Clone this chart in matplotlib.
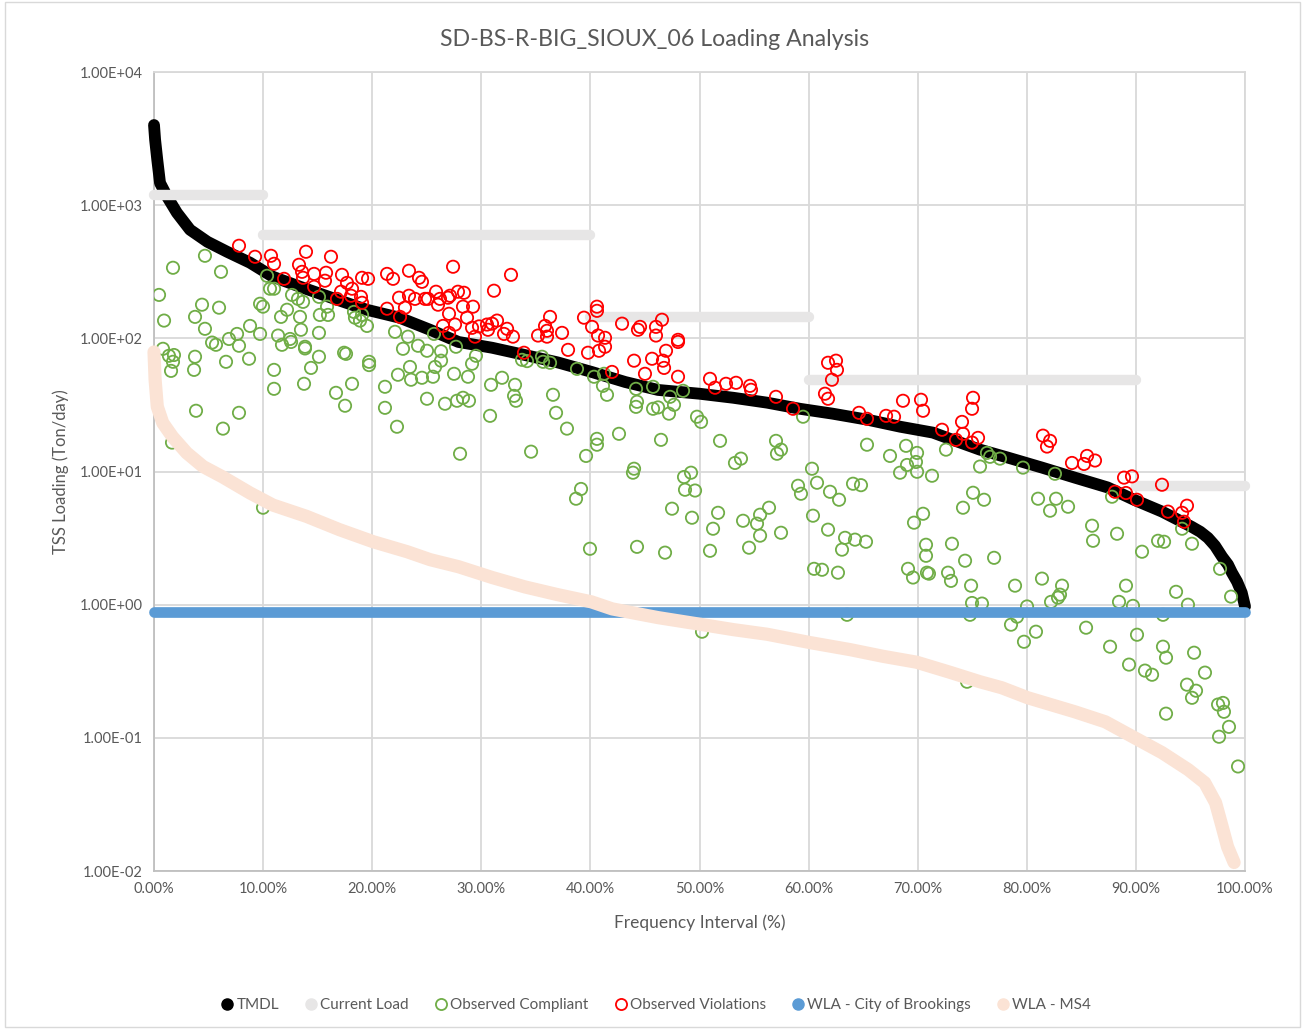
import matplotlib
matplotlib.use("Agg")
import matplotlib.pyplot as plt
from matplotlib.lines import Line2D
from matplotlib.patches import Rectangle
from matplotlib.ticker import FixedLocator, FuncFormatter

plt.rcParams["font.family"] = ["Lato", "DejaVu Sans"]

TITLE = "SD-BS-R-BIG_SIOUX_06 Loading Analysis"

# TMDL curve (frequency %, Ton/day)
tmdl_pct = [0, 0.1, 0.3, 0.55, 1.2, 2.1, 3.3, 4.9, 6.7, 8.8, 10.9, 13.4, 16.8, 19.5,
            22.5, 25.3, 27.9, 31.0, 34.0, 37.0, 40.1, 43.2, 46.2, 50.0, 53.1, 56.2,
            59.2, 62.2, 65.4, 68.4, 71.4, 73.2, 75.7, 78.3, 81.4, 84.4, 87.4, 89.9,
            92.4, 95.1, 95.9, 96.6, 97.25, 97.9, 98.44, 98.8, 99.27, 99.7, 100]
tmdl_load = [4000, 3100, 2190, 1470, 1160, 877, 654, 531, 447, 370, 290, 244, 195, 164,
             143, 116, 94, 85, 75, 66, 56, 47, 41, 38.4, 35.8, 32.9,
             29.6, 27.2, 24.5, 21.7, 19.6, 17.3, 14.6, 12.7, 10.7, 9.0, 7.6, 6.1,
             5.0, 3.85, 3.53, 3.18, 2.77, 2.29, 2.0, 1.74, 1.49, 1.23, 0.97]

# Current load by flow regime
current_start = [0, 10, 40, 60, 90]
current_end = [10, 40, 60, 90, 100]
current_load = [1200, 600, 145, 49, 7.8]

# WLA - City of Brookings
wla_brookings = 0.886

# WLA - MS4 curve
ms4_pct = [0, 0.1, 0.3, 0.8, 1.7, 3.0, 4.5, 6.3, 8.8, 10.9, 14.0, 17.0, 20.1, 23.2,
           25.3, 27.9, 31.0, 34.0, 37.0, 40.1, 42.0, 46.2, 50.2, 53.1, 56.2, 60.1,
           63.8, 66.8, 69.9, 73.0, 75.7, 77.7, 80.1, 84.4, 87.2, 89.9, 92.4, 94.8,
           96.3, 97.3, 97.9, 98.4, 99.0]
ms4_load = [79, 49, 30.7, 23.2, 18.2, 13.8, 10.9, 9.1, 6.9, 5.6, 4.6, 3.66, 2.97, 2.50,
            2.18, 1.93, 1.60, 1.36, 1.19, 1.05, 0.93, 0.80, 0.71, 0.65, 0.60, 0.52,
            0.46, 0.41, 0.37, 0.31, 0.264, 0.238, 0.20, 0.157, 0.132, 0.100, 0.0774, 0.0577,
            0.0461, 0.0326, 0.0216, 0.0152, 0.0116]

# Observed compliant samples
ok_pct = [4.67, 1.74, 6.14, 0.46, 4.40, 5.96, 3.76, 0.92, 4.67, 10.36, 10.63, 11.0, 12.65, 13.2,
          13.66, 9.72, 9.99, 12.19, 11.64, 13.38, 15.2, 15.95, 15.86, 15.12, 18.33, 18.42, 19.07,
          18.88, 19.52, 8.80, 7.61, 11.37, 9.72, 22.09, 23.28, 5.32, 6.87, 12.47, 15.12, 5.68,
          7.79, 0.82, 1.37, 1.83, 1.74, 1.56, 3.76, 3.67, 6.60, 8.71, 11.73, 12.56, 13.47, 13.84,
          13.84, 15.12, 14.39, 11.0, 11.0, 13.75, 16.68, 18.15, 17.51, 17.42, 17.6, 19.71, 19.71,
          22.82, 24.2, 25.02, 23.46, 22.36, 23.56, 24.56, 21.17, 21.17, 22.27, 25.02, 3.85, 7.79,
          6.32, 1.65, 9.99, 26.31, 26.31, 25.76, 25.57, 27.68, 29.51, 29.15, 28.78, 27.5, 26.67,
          27.77, 28.32, 28.87, 30.89, 31.9, 33.09, 33.0, 33.18, 30.8, 33.73, 34.19, 35.56, 35.66,
          36.3, 36.57, 36.85, 37.85, 34.56, 28.05, 38.77, 40.33, 41.25, 41.15, 41.52, 40.6, 40.6,
          39.6, 42.62, 44.18, 44.27, 44.18, 45.74, 45.74, 46.2, 47.3, 47.66, 47.2, 48.49, 49.77,
          50.14, 46.47, 44.0, 43.9, 48.58, 49.22, 48.67, 49.59, 47.48, 49.31, 39.14, 38.68, 39.96,
          44.27, 46.84, 51.88, 53.25, 53.8, 57.01, 57.1, 57.47, 59.49, 60.31, 60.77, 59.03, 59.3,
          61.96, 62.79, 64.07, 64.8, 65.35, 67.46, 68.93, 69.94, 69.84, 69.94, 69.02, 68.38,
          71.31, 72.59, 75.71, 51.7, 51.24, 50.96, 53.99, 55.55, 56.37, 55.27, 55.55, 54.54,
          57.47, 60.4, 61.78, 63.34, 64.25, 65.26, 63.06, 60.5, 61.23, 62.69, 70.49, 69.66, 70.76,
          70.76, 69.11, 69.57, 70.85, 71.03, 73.14, 72.78, 73.05, 74.34, 74.89, 75.07, 74.15,
          74.98, 76.35, 76.63, 77.54, 79.65, 82.58, 76.08, 81.03, 82.13, 82.68, 83.78, 85.98,
          86.07, 88.27, 87.81, 90.56, 92.03, 92.58, 94.23, 95.14, 97.71, 98.72, 77.0, 78.92,
          81.39, 83.23, 83.04, 82.86, 82.22, 89.09, 93.68, 88.45, 89.73, 94.77, 75.89, 80.02,
          78.55, 79.1, 79.74, 80.84, 85.43, 87.63, 89.37, 90.1, 90.83, 91.48, 92.48, 92.76, 92.76,
          94.68, 95.14, 95.51, 95.33, 96.33, 97.53, 97.98, 98.07, 98.53, 97.62, 99.36, 92.48,
          50.23, 63.52, 74.52, 74.79, 25.66]
ok_load = [417, 339, 316, 212, 179, 170, 145, 136, 118, 295, 236, 236, 212, 198,
           188, 182, 173, 164, 145, 145, 150, 150, 173, 205, 158, 143, 150,
           136, 124, 124, 108, 105, 108, 112, 103, 93, 99, 99, 110, 89.5,
           88, 83.5, 74, 75, 66.7, 57, 72.8, 58, 66.7, 70.3, 89.5, 94, 116, 86.5,
           84, 72.8, 60, 58, 41.8, 45.6, 39, 45.6, 31.2, 78, 76.5, 66.7, 63,
           83.5, 88, 80.7, 61, 53.3, 48.9, 50.6, 43.3, 30.1, 21.7, 35.2, 28.6, 27.6,
           21, 16.5, 5.35, 80, 68, 61, 51.5, 86.5, 74, 64.5, 51.5, 54.2, 32.3,
           34, 35.8, 34, 44.8, 50.6, 44.8, 37, 34, 26.2, 69, 67.5, 72.8, 66.7,
           65.6, 37.7, 27.6, 21, 14.1, 13.6, 59, 51.5, 54.2, 44, 37.7, 17.6, 15.9,
           13.1, 19.2, 41.8, 33.4, 30.6, 43.3, 29.6, 30.3, 36.4, 31.7, 27.2, 40.4, 25.8,
           23.6, 17.3, 10.5, 9.8, 9.1, 9.8, 7.3, 7.2, 5.26, 4.5, 7.4, 6.25, 2.63,
           2.72, 2.46, 17, 11.6, 12.5, 17, 13.6, 14.6, 25.8, 10.5, 8.24, 7.82, 6.81,
           7.05, 6.14, 8.1, 7.9, 15.9, 13.1, 15.6, 13.8, 11.8, 9.96, 11.2, 9.8,
           9.3, 14.6, 10.9, 4.9, 3.72, 2.54, 4.27, 4.74, 5.35, 4.06, 3.3, 2.68,
           3.47, 4.66, 3.66, 3.18, 3.08, 2.97, 2.59, 1.86, 1.83, 1.74, 4.82, 4.13, 2.82,
           2.33, 1.86, 1.6, 1.74, 1.71, 2.87, 1.74, 1.51, 2.14, 1.39, 6.93, 5.35,
           1.03, 13.8, 12.9, 12.5, 10.7, 9.62, 6.14, 6.25, 5.08, 6.25, 5.44, 3.92,
           3.02, 3.41, 6.47, 2.5, 3.02, 2.97, 3.72, 2.87, 1.86, 1.15, 2.25, 1.39,
           1.57, 1.39, 1.19, 1.13, 1.05, 1.39, 1.25, 1.05, 0.98, 1.0, 1.02, 0.97,
           0.708, 0.813, 0.527, 0.627, 0.672, 0.484, 0.355, 0.595, 0.32, 0.298, 0.484, 0.40, 0.152,
           0.251, 0.20, 0.226, 0.436, 0.309, 0.178, 0.183, 0.157, 0.121, 0.102, 0.061, 0.84,
           0.627, 0.84, 0.264, 0.84, 108]

# Observed violations
bad_pct = [7.79, 9.26, 10.72, 11.0, 13.93, 16.22, 13.29, 13.57, 13.66, 14.67, 15.77, 15.67,
           11.92, 14.67, 17.23, 17.69, 17.14, 18.15, 18.06, 18.97, 19.07, 16.77, 19.07, 19.62,
           21.36, 21.91, 23.37, 24.29, 24.56, 22.46, 23.37, 23.92, 24.84, 25.11, 23.0, 21.36,
           22.55, 27.41, 25.85, 27.86, 28.41, 26.21, 26.95, 27.13, 26.03, 28.32, 29.24, 27.04,
           28.69, 26.49, 27.59, 27.04, 29.15, 29.79, 30.52, 30.98, 31.44, 31.16, 32.72, 32.36,
           32.08, 32.9, 35.2, 35.84, 36.02, 36.3, 37.4, 39.41, 40.15, 40.6, 40.6, 40.7, 41.34,
           42.9, 44.55, 46.01, 46.56, 46.01, 48.03, 29.42, 30.61, 33.91, 36.02, 37.95, 39.78,
           40.79, 41.34, 41.98, 44.0, 45.0, 45.65, 46.65, 46.75, 46.93, 48.03, 48.03, 44.36,
           50.96, 51.42, 52.43, 53.35, 54.63, 54.72, 57.01, 58.57, 61.78, 62.51, 62.6, 62.14,
           61.5, 61.78, 64.62, 65.35, 67.1, 67.83, 68.65, 70.3, 70.49, 72.23, 73.51, 74.06,
           74.15, 74.98, 75.07, 74.98, 75.53, 81.48, 82.13, 81.85, 84.14, 85.52, 85.24, 86.25,
           88.91, 89.64, 88.08, 89.09, 90.1, 92.39, 92.94, 94.23, 94.68, 94.41]
bad_load = [496, 410, 417, 363, 447, 410, 357, 316, 285, 305, 311, 271,
            280, 244, 300, 261, 224, 236, 209, 205, 185, 198, 285, 280,
            305, 280, 322, 285, 266, 202, 209, 198, 198, 198, 170, 167,
            145, 345, 224, 224, 220, 198, 202, 209, 179, 173, 173, 153,
            143, 124, 127, 110, 120, 123, 127, 129, 136, 228, 300, 118,
            108, 103, 105, 124, 114, 145, 110, 143, 122, 173, 161, 105, 101,
            129, 122, 122, 138, 105, 97.5, 103, 116, 78, 103, 82, 78,
            80.7, 86.5, 56, 68, 54.2, 70.3, 68, 60, 80.7, 94, 51.5, 116,
            49.7, 42.6, 45.6, 46.4, 44, 41.1, 36.4, 29.6, 65.6, 68, 58, 48.9,
            38.4, 35.2, 27.6, 24.9, 26.2, 25.8, 34, 34.6, 28.6, 20.6, 17.3, 23.6,
            19.2, 16.5, 35.8, 29.6, 17.9, 18.6, 17, 15.4, 11.6, 13.1, 11.4, 12.1,
            9.0, 9.2, 7.05, 6.9, 6.14, 7.96, 5.0, 4.9, 5.54, 4.2]

C_TMDL = "black"
C_CURRENT = "#E7E6E6"
C_OK = "#70AD47"
C_BAD = "#FF0000"
C_BROOK = "#5B9BD5"
C_MS4 = "#FBE3D5"
C_TEXT = "#595959"
C_GRID = "#D9D9D9"

fig = plt.figure(figsize=(13.03, 10.29), dpi=100)
ax = fig.add_axes([0.1182, 0.1535, 0.8373, 0.7765])

ax.plot(tmdl_pct, tmdl_load, color=C_TMDL, lw=8.5, solid_capstyle="round",
        solid_joinstyle="round", zorder=3, clip_on=False)
for x0, x1, v in zip(current_start, current_end, current_load):
    ax.plot([x0, x1], [v, v], color=C_CURRENT, lw=7.5, solid_capstyle="round",
            zorder=4, clip_on=False)
ax.scatter(ok_pct, ok_load, s=78, facecolors="none", edgecolors=C_OK, linewidths=1.3, zorder=5)
ax.scatter(bad_pct, bad_load, s=78, facecolors="none", edgecolors=C_BAD, linewidths=1.3, zorder=6)
ax.plot([0, 100], [wla_brookings, wla_brookings], color=C_BROOK, lw=7.7,
        solid_capstyle="round", zorder=7, clip_on=False)
ax.plot(ms4_pct, ms4_load, color=C_MS4, lw=9.5, solid_capstyle="round",
        solid_joinstyle="round", zorder=8, clip_on=False)

ax.set_yscale("log")
ax.set_ylim(0.01, 10000)
ax.set_xlim(0, 100)
ax.yaxis.set_major_locator(FixedLocator([0.01, 0.1, 1, 10, 100, 1000, 10000]))
ax.yaxis.set_minor_locator(FixedLocator([]))
ax.yaxis.set_major_formatter(FuncFormatter(lambda v, p: f"{v:.2E}"))
ax.set_xticks(range(0, 101, 10))
ax.xaxis.set_major_formatter(FuncFormatter(lambda v, p: f"{v:.2f}%"))
ax.tick_params(axis="both", length=0, labelsize=10.5, colors=C_TEXT, pad=8)
ax.grid(True, color=C_GRID, lw=1.3, zorder=0)
ax.set_axisbelow(True)
for side, sp in ax.spines.items():
    sp.set_color("#BFBFBF" if side in ("left", "bottom") else C_GRID)
    sp.set_linewidth(1.3)

ax.set_ylabel("TSS Loading (Ton/day)", fontsize=12, color=C_TEXT, labelpad=8)
ax.set_xlabel("Frequency Interval (%)", fontsize=12.5, color=C_TEXT, labelpad=13)
fig.text(0.5027, 0.962, TITLE, ha="center", va="center", fontsize=16.7, color=C_TEXT)

handles = [
    Line2D([], [], ls="none", marker="o", ms=8, color=C_TMDL),
    Line2D([], [], ls="none", marker="o", ms=8, color=C_CURRENT),
    Line2D([], [], ls="none", marker="o", ms=8, mfc="none", mec=C_OK, mew=1.3),
    Line2D([], [], ls="none", marker="o", ms=8, mfc="none", mec=C_BAD, mew=1.3),
    Line2D([], [], ls="none", marker="o", ms=8, color=C_BROOK),
    Line2D([], [], ls="none", marker="o", ms=8, color=C_MS4),
]
labels = ["TMDL", "Current Load", "Observed Compliant", "Observed Violations",
          "WLA - City of Brookings", "WLA - MS4"]
leg = fig.legend(handles, labels, loc="center", bbox_to_anchor=(0.503, 0.0233), ncol=6,
                 frameon=False, fontsize=11, handletextpad=0.1, columnspacing=1.6,
                 handlelength=1.0)
for t in leg.get_texts():
    t.set_color(C_TEXT)

fig.patches.append(Rectangle((0.004, 0.002), 0.994, 0.996, transform=fig.transFigure,
                             fill=False, edgecolor=C_GRID, lw=1.0))

fig.savefig("out.png", dpi=100)
